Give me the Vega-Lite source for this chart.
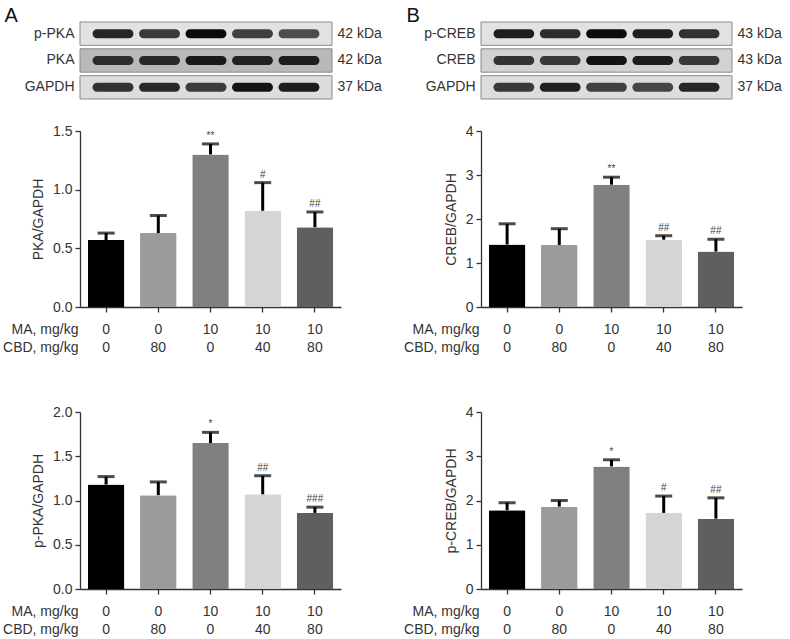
{
  "$schema": "https://vega.github.io/schema/vega-lite/v6.json",
  "padding": {"left": 2, "top": 5, "right": 2, "bottom": 2},
  "config": {
    "font": "Liberation Sans",
    "view": {"stroke": null},
    "axis": {
      "labelFont": "Liberation Sans", "labelFontSize": 14, "labelColor": "#333333",
      "titleFont": "Liberation Sans", "titleFontSize": 14, "titleFontWeight": "normal", "titleColor": "#333333",
      "domainColor": "#333333", "tickColor": "#333333", "domainWidth": 1.3, "tickWidth": 1.3, "tickSize": 5, "grid": false
    }
  },
  "datasets": {
    "pka": [
      {"grp": "0|0", "value": 0.57, "upper": 0.63, "sig": ""},
      {"grp": "0|80", "value": 0.63, "upper": 0.78, "sig": ""},
      {"grp": "10|0", "value": 1.30, "upper": 1.39, "sig": "**"},
      {"grp": "10|40", "value": 0.82, "upper": 1.06, "sig": "#"},
      {"grp": "10|80", "value": 0.68, "upper": 0.81, "sig": "##"}
    ],
    "creb": [
      {"grp": "0|0", "value": 1.42, "upper": 1.89, "sig": ""},
      {"grp": "0|80", "value": 1.41, "upper": 1.78, "sig": ""},
      {"grp": "10|0", "value": 2.78, "upper": 2.95, "sig": "**"},
      {"grp": "10|40", "value": 1.53, "upper": 1.62, "sig": "##"},
      {"grp": "10|80", "value": 1.26, "upper": 1.54, "sig": "##"}
    ],
    "ppka": [
      {"grp": "0|0", "value": 1.18, "upper": 1.27, "sig": ""},
      {"grp": "0|80", "value": 1.06, "upper": 1.21, "sig": ""},
      {"grp": "10|0", "value": 1.65, "upper": 1.77, "sig": "*"},
      {"grp": "10|40", "value": 1.07, "upper": 1.28, "sig": "##"},
      {"grp": "10|80", "value": 0.86, "upper": 0.925, "sig": "###"}
    ],
    "pcreb": [
      {"grp": "0|0", "value": 1.78, "upper": 1.95, "sig": ""},
      {"grp": "0|80", "value": 1.86, "upper": 2.0, "sig": ""},
      {"grp": "10|0", "value": 2.77, "upper": 2.92, "sig": "*"},
      {"grp": "10|40", "value": 1.72, "upper": 2.10, "sig": "#"},
      {"grp": "10|80", "value": 1.59, "upper": 2.06, "sig": "##"}
    ],
    "boxA": [
      {"row": "p-PKA|42 kDa", "bg": 0.15},
      {"row": "PKA|42 kDa", "bg": 0.55},
      {"row": "GAPDH|37 kDa", "bg": 0.2}
    ],
    "boxB": [
      {"row": "p-CREB|43 kDa", "bg": 0.15},
      {"row": "CREB|43 kDa", "bg": 0.3},
      {"row": "GAPDH|37 kDa", "bg": 0.2}
    ],
    "bandA": [
      {"row": "p-PKA|42 kDa", "lane": 1, "intensity": 0.75},
      {"row": "p-PKA|42 kDa", "lane": 2, "intensity": 0.6},
      {"row": "p-PKA|42 kDa", "lane": 3, "intensity": 0.95},
      {"row": "p-PKA|42 kDa", "lane": 4, "intensity": 0.55},
      {"row": "p-PKA|42 kDa", "lane": 5, "intensity": 0.45},
      {"row": "PKA|42 kDa", "lane": 1, "intensity": 0.7},
      {"row": "PKA|42 kDa", "lane": 2, "intensity": 0.72},
      {"row": "PKA|42 kDa", "lane": 3, "intensity": 0.85},
      {"row": "PKA|42 kDa", "lane": 4, "intensity": 0.78},
      {"row": "PKA|42 kDa", "lane": 5, "intensity": 0.82},
      {"row": "GAPDH|37 kDa", "lane": 1, "intensity": 0.65},
      {"row": "GAPDH|37 kDa", "lane": 2, "intensity": 0.72},
      {"row": "GAPDH|37 kDa", "lane": 3, "intensity": 0.58},
      {"row": "GAPDH|37 kDa", "lane": 4, "intensity": 0.9},
      {"row": "GAPDH|37 kDa", "lane": 5, "intensity": 0.82}
    ],
    "bandB": [
      {"row": "p-CREB|43 kDa", "lane": 1, "intensity": 0.8},
      {"row": "p-CREB|43 kDa", "lane": 2, "intensity": 0.7},
      {"row": "p-CREB|43 kDa", "lane": 3, "intensity": 0.95},
      {"row": "p-CREB|43 kDa", "lane": 4, "intensity": 0.8},
      {"row": "p-CREB|43 kDa", "lane": 5, "intensity": 0.65},
      {"row": "CREB|43 kDa", "lane": 1, "intensity": 0.65},
      {"row": "CREB|43 kDa", "lane": 2, "intensity": 0.6},
      {"row": "CREB|43 kDa", "lane": 3, "intensity": 0.9},
      {"row": "CREB|43 kDa", "lane": 4, "intensity": 0.82},
      {"row": "CREB|43 kDa", "lane": 5, "intensity": 0.6},
      {"row": "GAPDH|37 kDa", "lane": 1, "intensity": 0.6},
      {"row": "GAPDH|37 kDa", "lane": 2, "intensity": 0.8},
      {"row": "GAPDH|37 kDa", "lane": 3, "intensity": 0.55},
      {"row": "GAPDH|37 kDa", "lane": 4, "intensity": 0.5},
      {"row": "GAPDH|37 kDa", "lane": 5, "intensity": 0.75}
    ]
  },
  "spacing": 21,
  "hconcat": [
    {
      "spacing": 22,
      "vconcat": [
        {
          "width": 252, "height": 80,
          "layer": [
            {
              "data": {"name": "boxA"},
              "mark": {"type": "rect", "stroke": "#8a8a8a", "strokeWidth": 1},
              "encoding": {
                "y": {"field": "row", "type": "nominal", "scale": {"domain": ["p-PKA|42 kDa", "PKA|42 kDa", "GAPDH|37 kDa"], "paddingInner": 0.13, "paddingOuter": 0.056, "align": 0},
                      "axis": {"orient": "left", "domain": false, "ticks": false, "labelPadding": 6, "labelExpr": "split(datum.value, '|')[0]",
                               "title": "A", "titleAngle": 0, "titleFontSize": 20, "titleColor": "#111111", "titleAlign": "left", "titleBaseline": "top", "titleX": -76, "titleY": -17}},
                "fill": {"field": "bg", "type": "quantitative", "scale": {"domain": [0, 1], "range": ["#f2f2f2", "#8c8c8c"]}, "legend": null}
              }
            },
            {
              "data": {"name": "bandA"},
              "mark": {"type": "rect", "height": 9, "cornerRadius": 4.5},
              "encoding": {
                "x": {"field": "lane", "type": "ordinal", "scale": {"paddingInner": 0.12, "paddingOuter": 0.27}, "axis": null},
                "y": {"field": "row", "type": "nominal", "scale": {"domain": ["p-PKA|42 kDa", "PKA|42 kDa", "GAPDH|37 kDa"], "paddingInner": 0.13, "paddingOuter": 0.056, "align": 0},
                      "axis": {"orient": "right", "title": null, "domain": false, "ticks": false, "labelPadding": 5, "labelExpr": "split(datum.value, '|')[1]"}},
                "fill": {"field": "intensity", "type": "quantitative", "scale": {"domain": [0, 1], "range": ["#909090", "#000000"]}, "legend": null}
              }
            }
          ],
          "resolve": {"scale": {"fill": "independent", "y": "independent"}}
        },
        {
          "width": 261, "height": 176,
          "data": {"name": "pka"},
          "encoding": {
            "x": {"field": "grp", "type": "nominal", "scale": {"paddingInner": 0.3, "paddingOuter": 0.15},
                  "axis": {"labelAngle": 0, "labelExpr": "split(datum.value, '|')", "labelLineHeight": 18, "labelPadding": 10,
                           "title": ["MA, mg/kg", "CBD, mg/kg"], "titleAlign": "right", "titleAnchor": "start", "titleX": -2, "titleY": 15, "titleBaseline": "top", "titleLineHeight": 18, "titleAngle": 0}}
          },
          "layer": [
            {
              "mark": {"type": "bar", "cornerRadius": 1},
              "encoding": {
                "y": {"field": "value", "type": "quantitative", "scale": {"domain": [0, 1.5], "nice": false},
                      "axis": {"title": "PKA/GAPDH", "values": [0, 0.5, 1, 1.5], "format": ".1f", "titlePadding": 7, "labelPadding": 3}},
                "color": {"field": "grp", "type": "nominal", "scale": {"range": ["#000000", "#9b9b9e", "#808080", "#d4d6d5", "#5f5f5f"]}, "legend": null}
              }
            },
            {"mark": {"type": "rule", "strokeWidth": 3, "color": "#000000"}, "encoding": {"y": {"field": "value", "type": "quantitative"}, "y2": {"field": "upper"}}},
            {"mark": {"type": "tick", "size": 17, "thickness": 3, "color": "#000000"}, "encoding": {"y": {"field": "upper", "type": "quantitative"}}},
            {"mark": {"type": "text", "baseline": "bottom", "dy": -3, "fontSize": 10, "color": "#444444"}, "encoding": {"y": {"field": "upper", "type": "quantitative"}, "text": {"field": "sig"}}}
          ]
        },
        {"width": 261, "height": 1, "data": {"values": [{"a": 1}]}, "mark": {"type": "point", "opacity": 0}, "encoding": {}},
        {
          "width": 261, "height": 177,
          "data": {"name": "ppka"},
          "encoding": {
            "x": {"field": "grp", "type": "nominal", "scale": {"paddingInner": 0.3, "paddingOuter": 0.15},
                  "axis": {"labelAngle": 0, "labelExpr": "split(datum.value, '|')", "labelLineHeight": 18, "labelPadding": 10,
                           "title": ["MA, mg/kg", "CBD, mg/kg"], "titleAlign": "right", "titleAnchor": "start", "titleX": -2, "titleY": 15, "titleBaseline": "top", "titleLineHeight": 18, "titleAngle": 0}}
          },
          "layer": [
            {
              "mark": {"type": "bar", "cornerRadius": 1},
              "encoding": {
                "y": {"field": "value", "type": "quantitative", "scale": {"domain": [0, 2], "nice": false},
                      "axis": {"title": "p-PKA/GAPDH", "values": [0, 0.5, 1, 1.5, 2], "format": ".1f", "titlePadding": 7, "labelPadding": 3}},
                "color": {"field": "grp", "type": "nominal", "scale": {"range": ["#000000", "#9b9b9e", "#808080", "#d4d6d5", "#5f5f5f"]}, "legend": null}
              }
            },
            {"mark": {"type": "rule", "strokeWidth": 3, "color": "#000000"}, "encoding": {"y": {"field": "value", "type": "quantitative"}, "y2": {"field": "upper"}}},
            {"mark": {"type": "tick", "size": 17, "thickness": 3, "color": "#000000"}, "encoding": {"y": {"field": "upper", "type": "quantitative"}}},
            {"mark": {"type": "text", "baseline": "bottom", "dy": -3, "fontSize": 10, "color": "#444444"}, "encoding": {"y": {"field": "upper", "type": "quantitative"}, "text": {"field": "sig"}}}
          ]
        }
      ]
    },
    {
      "spacing": 22,
      "vconcat": [
        {
          "width": 251, "height": 80,
          "layer": [
            {
              "data": {"name": "boxB"},
              "mark": {"type": "rect", "stroke": "#8a8a8a", "strokeWidth": 1},
              "encoding": {
                "y": {"field": "row", "type": "nominal", "scale": {"domain": ["p-CREB|43 kDa", "CREB|43 kDa", "GAPDH|37 kDa"], "paddingInner": 0.13, "paddingOuter": 0.056, "align": 0},
                      "axis": {"orient": "left", "domain": false, "ticks": false, "labelPadding": 6, "labelExpr": "split(datum.value, '|')[0]",
                               "title": "B", "titleAngle": 0, "titleFontSize": 20, "titleColor": "#111111", "titleAlign": "left", "titleBaseline": "top", "titleX": -75, "titleY": -17}},
                "fill": {"field": "bg", "type": "quantitative", "scale": {"domain": [0, 1], "range": ["#f2f2f2", "#8c8c8c"]}, "legend": null}
              }
            },
            {
              "data": {"name": "bandB"},
              "mark": {"type": "rect", "height": 9, "cornerRadius": 4.5},
              "encoding": {
                "x": {"field": "lane", "type": "ordinal", "scale": {"paddingInner": 0.12, "paddingOuter": 0.27}, "axis": null},
                "y": {"field": "row", "type": "nominal", "scale": {"domain": ["p-CREB|43 kDa", "CREB|43 kDa", "GAPDH|37 kDa"], "paddingInner": 0.13, "paddingOuter": 0.056, "align": 0},
                      "axis": {"orient": "right", "title": null, "domain": false, "ticks": false, "labelPadding": 5, "labelExpr": "split(datum.value, '|')[1]"}},
                "fill": {"field": "intensity", "type": "quantitative", "scale": {"domain": [0, 1], "range": ["#909090", "#000000"]}, "legend": null}
              }
            }
          ],
          "resolve": {"scale": {"fill": "independent", "y": "independent"}}
        },
        {
          "width": 261, "height": 176,
          "data": {"name": "creb"},
          "encoding": {
            "x": {"field": "grp", "type": "nominal", "scale": {"paddingInner": 0.3, "paddingOuter": 0.15},
                  "axis": {"labelAngle": 0, "labelExpr": "split(datum.value, '|')", "labelLineHeight": 18, "labelPadding": 10,
                           "title": ["MA, mg/kg", "CBD, mg/kg"], "titleAlign": "right", "titleAnchor": "start", "titleX": -2, "titleY": 15, "titleBaseline": "top", "titleLineHeight": 18, "titleAngle": 0}}
          },
          "layer": [
            {
              "mark": {"type": "bar", "cornerRadius": 1},
              "encoding": {
                "y": {"field": "value", "type": "quantitative", "scale": {"domain": [0, 4], "nice": false},
                      "axis": {"title": "CREB/GAPDH", "values": [0, 1, 2, 3, 4], "format": "d", "titlePadding": 7, "labelPadding": 3}},
                "color": {"field": "grp", "type": "nominal", "scale": {"range": ["#000000", "#9b9b9e", "#808080", "#d4d6d5", "#5f5f5f"]}, "legend": null}
              }
            },
            {"mark": {"type": "rule", "strokeWidth": 3, "color": "#000000"}, "encoding": {"y": {"field": "value", "type": "quantitative"}, "y2": {"field": "upper"}}},
            {"mark": {"type": "tick", "size": 17, "thickness": 3, "color": "#000000"}, "encoding": {"y": {"field": "upper", "type": "quantitative"}}},
            {"mark": {"type": "text", "baseline": "bottom", "dy": -3, "fontSize": 10, "color": "#444444"}, "encoding": {"y": {"field": "upper", "type": "quantitative"}, "text": {"field": "sig"}}}
          ]
        },
        {"width": 261, "height": 1, "data": {"values": [{"a": 1}]}, "mark": {"type": "point", "opacity": 0}, "encoding": {}},
        {
          "width": 261, "height": 177,
          "data": {"name": "pcreb"},
          "encoding": {
            "x": {"field": "grp", "type": "nominal", "scale": {"paddingInner": 0.3, "paddingOuter": 0.15},
                  "axis": {"labelAngle": 0, "labelExpr": "split(datum.value, '|')", "labelLineHeight": 18, "labelPadding": 10,
                           "title": ["MA, mg/kg", "CBD, mg/kg"], "titleAlign": "right", "titleAnchor": "start", "titleX": -2, "titleY": 15, "titleBaseline": "top", "titleLineHeight": 18, "titleAngle": 0}}
          },
          "layer": [
            {
              "mark": {"type": "bar", "cornerRadius": 1},
              "encoding": {
                "y": {"field": "value", "type": "quantitative", "scale": {"domain": [0, 4], "nice": false},
                      "axis": {"title": "p-CREB/GAPDH", "values": [0, 1, 2, 3, 4], "format": "d", "titlePadding": 7, "labelPadding": 3}},
                "color": {"field": "grp", "type": "nominal", "scale": {"range": ["#000000", "#9b9b9e", "#808080", "#d4d6d5", "#5f5f5f"]}, "legend": null}
              }
            },
            {"mark": {"type": "rule", "strokeWidth": 3, "color": "#000000"}, "encoding": {"y": {"field": "value", "type": "quantitative"}, "y2": {"field": "upper"}}},
            {"mark": {"type": "tick", "size": 17, "thickness": 3, "color": "#000000"}, "encoding": {"y": {"field": "upper", "type": "quantitative"}}},
            {"mark": {"type": "text", "baseline": "bottom", "dy": -3, "fontSize": 10, "color": "#444444"}, "encoding": {"y": {"field": "upper", "type": "quantitative"}, "text": {"field": "sig"}}}
          ]
        }
      ]
    }
  ]
}
